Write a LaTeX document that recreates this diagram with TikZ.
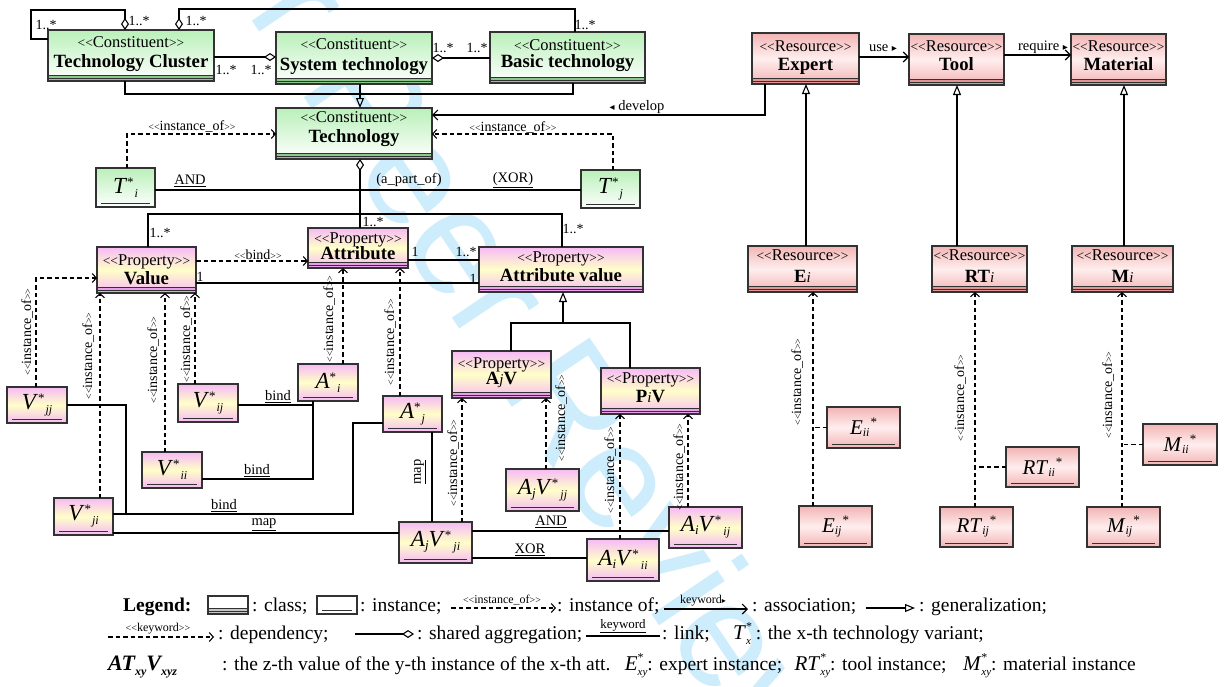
\documentclass[tikz,border=0pt]{standalone}
\usepackage{fontspec}
\setmainfont{Liberation Serif}
\newfontfamily\symfont{DejaVu Sans}
\newfontfamily\wmfont{Liberation Sans}
\usetikzlibrary{arrows.meta,calc}

\definecolor{edge}{RGB}{50,50,50}
\definecolor{gTop}{RGB}{185,240,185}
\definecolor{gBand}{RGB}{140,200,140}
\definecolor{rTop}{RGB}{242,180,180}
\definecolor{rMid}{RGB}{255,238,238}
\definecolor{rBand}{RGB}{225,150,150}
\definecolor{pTop}{RGB}{246,186,246}
\definecolor{pMid}{RGB}{255,255,200}
\definecolor{pBand}{RGB}{232,160,232}
\definecolor{wm}{RGB}{205,237,252}

\newcommand\fsz[1]{\fontsize{#1}{#1}\selectfont}
% stereotype brackets
\newcommand\stereo[1]{{\fsz{13.5}<{}<}#1{\fsz{13.5}>{}>}}
\newcommand\stereoS[1]{{\fsz{10}<{}<}#1{\fsz{10}>{}>}}
% instance names
\newcommand\vinst[2]{\textit{#1}\raisebox{7pt}{\fsz{13}*}\kern1pt\raisebox{-4pt}{\fsz{12}\itshape #2}}
\newcommand\avinst[3]{\textit{#1}\raisebox{-3pt}{\fsz{13}\itshape #2}\textit{V}\raisebox{7pt}{\fsz{13}*}\kern2pt\raisebox{-4pt}{\fsz{12}\itshape #3}}
\newcommand\rinst[2]{\textit{#1}\raisebox{-2pt}{\fsz{12}\itshape #2}\kern1pt\raisebox{8pt}{\fsz{13}*}}
\newcommand\stk[2]{\textit{#1}\rlap{\raisebox{9pt}{\fsz{12}*}}\raisebox{-5pt}{\fsz{11}\itshape #2}}
\newcommand\idx[1]{{\normalfont\itshape\fsz{15}#1}}
% stereotype and title of a class box
\newcommand\ctext[5]{%
  \node[stl, anchor=base] (#1-s) at ($(#1.north)+(0,#2)$) {\stereo{#3}};
  \node[ttl, anchor=base] (#1-n) at ($(#1.north)+(0,#4)$) {#5};}

\tikzset{
  umlbox/.style={draw=edge, line width=1.1pt, rectangle, inner sep=0pt, outer sep=0pt},
  band/.style={path picture={
      \fill[#1] (path picture bounding box.south west) rectangle ([yshift=5.5pt]path picture bounding box.south east);
      \draw[edge, line width=0.8pt] ([yshift=5.5pt]path picture bounding box.south west) -- ([yshift=5.5pt]path picture bounding box.south east);
      \draw[edge, line width=0.8pt] ([yshift=2.7pt]path picture bounding box.south west) -- ([yshift=2.7pt]path picture bounding box.south east);}},
  uline/.style={path picture={
      \draw[edge, line width=0.9pt] ([xshift=5pt,yshift=3.5pt]path picture bounding box.south west) -- ([xshift=-5pt,yshift=3.5pt]path picture bounding box.south east);}},
  ccls/.style={umlbox, top color=gTop, bottom color=white, band=gBand},
  rcls/.style={umlbox, top color=rTop, bottom color=rTop, middle color=rMid, band=rBand},
  pcls/.style={umlbox, top color=pTop, bottom color=pTop, middle color=pMid, band=pBand},
  cins/.style={umlbox, top color=gTop, bottom color=white, uline, font=\fsz{23}},
  rins/.style={umlbox, top color=rTop, bottom color=rTop, middle color=rMid, uline, font=\fsz{21}},
  pins/.style={umlbox, top color=pTop, bottom color=pTop, middle color=pMid, uline, font=\fsz{23}},
  stl/.style={font=\fsz{16.5}, inner sep=0pt},
  ttl/.style={font=\fsz{18.7}\bfseries, inner sep=0pt},
  ln/.style={draw=black, line width=1.1pt},
  dep/.style={ln, dash pattern=on 4.5pt off 3pt, -{Straight Barb[length=4pt,width=9pt]}},
  gen/.style={ln, -{Triangle[open,length=10pt,width=8pt]}},
  agg/.style={ln, -{Diamond[open,length=12pt,width=8pt]}},
  aggs/.style={ln, {Diamond[open,length=12pt,width=8pt]}-},
  assoc/.style={ln, -{Straight Barb[length=5pt,width=10pt]}},
  mul/.style={font=\fsz{14}, inner sep=0pt},
  lk/.style={font=\fsz{14.5}, inner sep=0pt},
  iof/.style={font=\fsz{14}, inner sep=0pt},
  rio/.style={font=\fsz{14}, inner sep=0pt, rotate=90},
  lg/.style={font=\fsz{19.5}, inner sep=0pt},
  lgb/.style={font=\fsz{19.5}\bfseries, inner sep=0pt},
  lgs/.style={font=\fsz{12}, inner sep=0pt},
}

\begin{document}
\begin{tikzpicture}[x=1pt,y=-1pt]
\useasboundingbox (0,0) rectangle (1224,686);
\fill[white] (0,0) rectangle (1224,686);

% review watermark
\node[font=\wmfont\fsz{150}, text=wm, rotate=-56, inner sep=0pt] (wmark) at (505,300) {For Peer Review};

% ---------- constituent classes ----------
\node[ccls, minimum width=166, minimum height=51] (TC) at (131,55.5) {};
\ctext{TC}{17}{Constituent}{37}{Technology Cluster}
\node[ccls, minimum width=156, minimum height=52] (ST) at (354,58) {};
\ctext{ST}{17}{Constituent}{38}{System technology}
\node[ccls, minimum width=155, minimum height=51] (BT) at (567.5,57.5) {};
\ctext{BT}{18}{Constituent}{35}{Basic technology}
\node[ccls, minimum width=156, minimum height=51] (TECH) at (354,133.5) {};
\ctext{TECH}{14}{Constituent}{34}{Technology}

\node[cins, minimum width=59, minimum height=39] (Ti) at (125.5,187.5) {\vinst{T}{i}};
\node[cins, minimum width=59, minimum height=38] (Tj) at (610.5,189) {\vinst{T}{j}};

% ---------- resource classes ----------
\node[rcls, minimum width=107, minimum height=51] (EXP) at (805.5,58.5) {};
\ctext{EXP}{18}{Resource}{37}{Expert}
\node[rcls, minimum width=95, minimum height=51] (TOOL) at (956.5,59.5) {};
\ctext{TOOL}{17}{Resource}{36}{Tool}
\node[rcls, minimum width=95, minimum height=51] (MAT) at (1118.5,59.5) {};
\ctext{MAT}{17}{Resource}{36}{Material}
\node[rcls, minimum width=109, minimum height=46] (Ei) at (802.5,269) {};
\ctext{Ei}{14}{Resource}{36}{E\idx{i}}
\node[rcls, minimum width=95, minimum height=46] (RTi) at (979.5,269) {};
\ctext{RTi}{14}{Resource}{36}{RT\idx{i}}
\node[rcls, minimum width=101, minimum height=46] (Mi) at (1122.5,269) {};
\ctext{Mi}{14}{Resource}{36}{M\idx{i}}

\node[rins, minimum width=73, minimum height=41] (Eii) at (863.5,427.5) {\rinst{E}{ii}};
\node[rins, minimum width=73, minimum height=41] (Eij) at (835.5,526.5) {\rinst{E}{ij}};
\node[rins, minimum width=73, minimum height=40] (RTii) at (1042.5,467) {\rinst{RT}{ii}};
\node[rins, minimum width=73, minimum height=40] (RTij) at (976.5,527) {\rinst{RT}{ij}};
\node[rins, minimum width=74, minimum height=41] (Mii) at (1180,444.5) {\rinst{M}{ii}};
\node[rins, minimum width=73, minimum height=40] (Mij) at (1123.5,527) {\rinst{M}{ij}};

% ---------- property classes ----------
\node[pcls, minimum width=99, minimum height=46] (VAL) at (146.5,270) {};
\ctext{VAL}{18}{Property}{37}{Value}
\node[pcls, minimum width=100, minimum height=40] (ATT) at (358,248) {};
\ctext{ATT}{15}{Property}{31}{Attribute}
\node[pcls, minimum width=164, minimum height=45] (AV) at (561,269.5) {};
\ctext{AV}{15}{Property}{34}{Attribute value}
\node[pcls, minimum width=99, minimum height=47] (AJV) at (501.5,374.5) {};
\ctext{AJV}{17}{Property}{33}{A\idx{j}V}
\node[pcls, minimum width=99, minimum height=46] (PIV) at (650.5,391) {};
\ctext{PIV}{15}{Property}{34}{P\idx{i}V}

% property instances
\node[pins, minimum width=60, minimum height=36] (Vjj) at (37,405) {\vinst{V}{jj}};
\node[pins, minimum width=60, minimum height=38] (Vij) at (208,403) {\vinst{V}{ij}};
\node[pins, minimum width=60, minimum height=37] (Ai) at (328,382.5) {\vinst{A}{i}};
\node[pins, minimum width=59, minimum height=36] (Aj) at (412.5,414) {\vinst{A}{j}};
\node[pins, minimum width=60, minimum height=36] (Vii) at (172,470) {\vinst{V}{ii}};
\node[pins, minimum width=59, minimum height=37] (Vji) at (83.5,516.5) {\vinst{V}{ji}};
\node[pins, minimum width=73, minimum height=41] (AjVji) at (435.5,542.5) {\avinst{A}{j}{ji}};
\node[pins, minimum width=73, minimum height=42] (AjVjj) at (542.5,490) {\avinst{A}{j}{jj}};
\node[pins, minimum width=72, minimum height=42] (AiVii) at (623,560) {\avinst{A}{i}{ii}};
\node[pins, minimum width=73, minimum height=41] (AiVij) at (705.5,527.5) {\avinst{A}{i}{ij}};

% ---------- constituent connectors ----------
\draw[agg] (TC.west |- 0,39) -- (31,39) -- (31,10) -- (125,10) -- (TC.north -| 125,0);
\draw[agg] (BT.north -| 575,0) -- (575,9) -- (179,9) -- (TC.north -| 179,0);
\draw[agg] (TC.east |- 0,57) -- (ST.west |- 0,57);
\draw[agg] (BT.west |- 0,58) -- (ST.east |- 0,58);
\draw[ln] (TC.south -| 125,0) -- (125,94) -- (573,94) -- (BT.south -| 573,0);
\draw[gen] (ST.south -| 360,0) -- (TECH.north -| 360,0);

\node[mul] (m1) at (46,25) {1..*};
\node[mul] (m2) at (139,21) {1..*};
\node[mul] (m3) at (196,21) {1..*};
\node[mul] (m4) at (585,25) {1..*};
\node[mul] (m5) at (226,70) {1..*};
\node[mul] (m6) at (261,70) {1..*};
\node[mul] (m7) at (443,48) {1..*};
\node[mul] (m8) at (477,48) {1..*};

\draw[dep] (Ti.north -| 127,0) -- (127,134) -- (TECH.west |- 0,134);
\draw[dep] (Tj.north -| 613,0) -- (613,134) -- (TECH.east |- 0,134);
\node[iof] (io1) at (192,126) {\stereoS{instance\_of}};
\node[iof] (io2) at (513,127) {\stereoS{instance\_of}};
\draw[ln] (Ti.east |- 0,190) -- (Tj.west |- 0,190);
\node[lk] (tand) at (190,180.5) {\underline{AND}};
\node[lk] (tpart) at (409,180) {(a\_part\_of)};
\node[lk] (txor) at (513,180.5) {\underline{(XOR)}};

\draw[assoc] (EXP.south -| 765,0) -- (765,115) -- (TECH.east |- 0,115);
\node[lk] (ldev) at (637,107) {{\symfont\fsz{10}◂} develop};

% aggregation of technology into properties
\draw[aggs] (TECH.south -| 360,0) -- (ATT.north -| 360,0);
\draw[ln] (VAL.north -| 148,0) -- (148,214) -- (562,214) -- (AV.north -| 562,0);
\node[mul] (m9) at (373,222) {1..*};
\node[mul] (m10) at (160,233) {1..*};
\node[mul] (m11) at (573,229) {1..*};

% ---------- property connectors ----------
\draw[dep] (VAL.east |- 0,261) -- (ATT.west |- 0,261);
\node[iof] (lbind) at (258,255) {\stereoS{bind}};
\draw[ln] (ATT.east |- 0,260) -- (AV.west |- 0,260);
\draw[ln] (VAL.east |- 0,283) -- (AV.west |- 0,283);
\node[mul] (m12) at (415,252) {1};
\node[mul] (m13) at (466,252) {1..*};
\node[mul] (m14) at (200,277) {1};
\node[mul] (m15) at (473,279) {1};

\draw[gen] (AJV.north -| 511,0) -- (511,323) -- (563,323) -- (AV.south -| 563,0);
\draw[ln] (PIV.north -| 630,0) -- (630,323) -- (563,323);

% instance_of dependencies
\draw[dep] (Vjj.north -| 36,0) -- (36,278) -- (VAL.west |- 0,278);
\draw[dep] (Vji.north -| 100,0) -- (VAL.south -| 100,0);
\draw[dep] (Vii.north -| 165,0) -- (VAL.south -| 165,0);
\draw[dep] (Vij.north -| 195,0) -- (VAL.south -| 195,0);
\draw[dep] (Ai.north -| 343,0) -- (ATT.south -| 343,0);
\draw[dep] (Aj.north -| 400,0) -- (ATT.south -| 400,0);
\draw[dep] (AjVji.north -| 462,0) -- (AJV.south -| 462,0);
\draw[dep] (AjVjj.north -| 546,0) -- (AJV.south -| 546,0);
\draw[dep] (AiVii.north -| 620,0) -- (PIV.south -| 620,0);
\draw[dep] (AiVij.north -| 688,0) -- (PIV.south -| 688,0);

\node[rio] (r1) at (27,332) {\stereoS{instance\_of}};
\node[rio] (r2) at (88,356) {\stereoS{instance\_of}};
\node[rio] (r3) at (153,360) {\stereoS{instance\_of}};
\node[rio] (r4) at (186,339) {\stereoS{instance\_of}};
\node[rio] (r5) at (329,319) {\stereoS{instance\_of}};
\node[rio] (r6) at (390,342) {\stereoS{instance\_of}};
\node[rio] (r7) at (453,463) {\stereoS{instance\_of}};
\node[rio] (r8) at (561,418) {\stereoS{instance\_of}};
\node[rio] (r9) at (610,470) {\stereoS{instance\_of}};
\node[rio] (r10) at (679,467) {\stereoS{instance\_of}};

% links between instances
\draw[ln] (Vij.east |- 0,405) -- (313,405);
\draw[ln] (Ai.south -| 313,0) -- (313,479) -- (Vii.east |- 0,479);
\draw[ln] (Vjj.east |- 0,405) -- (126,405) -- (126,514) -- (353,514) -- (353,423) -- (Aj.west |- 0,423);
\draw[ln] (Vji.east |- 0,514) -- (126,514);
\draw[ln] (Vji.east |- 0,533) -- (AjVji.west |- 0,533);
\draw[ln] (Aj.south -| 432,0) -- (AjVji.north -| 432,0);
\draw[ln] (AjVji.east |- 0,531) -- (AiVij.west |- 0,531);
\draw[ln] (AjVji.east |- 0,558) -- (AiVii.west |- 0,558);

\node[lk] (b1) at (278,397) {\underline{bind}};
\node[lk] (b2) at (257,471) {\underline{bind}};
\node[lk] (b3) at (224,506) {\underline{bind}};
\node[lk] (mp1) at (264,525) {\underline{map}};
\node[lk, rotate=90] (mp2) at (420,472) {\underline{map}};
\node[lk] (iand) at (551,522) {\underline{AND}};
\node[lk] (ixor) at (530,550) {\underline{XOR}};

% ---------- resource connectors ----------
\draw[assoc] (EXP.east |- 0,57) -- (TOOL.west |- 0,57);
\node[lk] (luse) at (883,48) {use {\symfont\fsz{10}▸}};
\draw[assoc] (TOOL.east |- 0,55) -- (MAT.west |- 0,55);
\node[lk] (lreq) at (1043,47) {require {\symfont\fsz{10}▸}};

\draw[gen] (Ei.north -| 806,0) -- (EXP.south -| 806,0);
\draw[gen] (RTi.north -| 957,0) -- (TOOL.south -| 957,0);
\draw[gen] (Mi.north -| 1124,0) -- (MAT.south -| 1124,0);

\draw[dep] (Eij.north -| 813,0) -- (Ei.south -| 813,0);
\draw[ln, dash pattern=on 4.5pt off 3pt] (Eii.west) -- (Eii.west -| 813,0);
\draw[dep] (RTij.north -| 975,0) -- (RTi.south -| 975,0);
\draw[ln, dash pattern=on 4.5pt off 3pt] (RTii.west) -- (RTii.west -| 975,0);
\draw[dep] (Mij.north -| 1122,0) -- (Mi.south -| 1122,0);
\draw[ln, dash pattern=on 4.5pt off 3pt] (Mii.west) -- (Mii.west -| 1122,0);

\node[rio] (r11) at (797,382) {\stereoS{instance\_of}};
\node[rio] (r12) at (960,398) {\stereoS{instance\_of}};
\node[rio] (r13) at (1108,395) {\stereoS{instance\_of}};

% ---------- legend ----------
% row 1
\node[lgb, anchor=base west] (lgL) at (123,611) {Legend:};
\node[umlbox, fill=white, band=gray!45, minimum width=40, minimum height=18] (lgC) at (228,605) {};
\node[lg, anchor=base west] (lgCt) at (252,611) {: class;};
\node[umlbox, fill=white, uline, minimum width=40, minimum height=18] (lgI) at (337,605) {};
\node[lg, anchor=base west] (lgIt) at (360,611) {: instance;};
\coordinate (lgD1) at (451,608);
\coordinate (lgD2) at (556,608);
\draw[dep] (lgD1) -- (lgD2);
\node[lgs] (lgDl) at (502,600) {\stereoS{instance\_of}};
\node[lg, anchor=base west] (lgDt) at (557,611) {: instance of;};
\coordinate (lgA1) at (664,609);
\coordinate (lgA2) at (748,609);
\draw[assoc] (lgA1) -- (lgA2);
\node[lgs] (lgAl) at (703,601) {keyword{\symfont\fsz{8}▸}};
\node[lg, anchor=base west] (lgAt) at (752,611) {: association;};
\coordinate (lgG1) at (866,608);
\coordinate (lgG2) at (915,608);
\draw[gen] (lgG1) -- (lgG2);
\node[lg, anchor=base west] (lgGt) at (919,611) {: generalization;};

% row 2
\coordinate (lgK1) at (108,637);
\coordinate (lgK2) at (214,637);
\draw[dep] (lgK1) -- (lgK2);
\node[lgs] (lgKl) at (158,629) {\stereoS{keyword}};
\node[lg, anchor=base west] (lgKt) at (218,639) {: dependency;};
\coordinate (lgS1) at (355,634);
\coordinate (lgS2) at (414,634);
\draw[agg] (lgS1) -- (lgS2);
\node[lg, anchor=base west] (lgSt) at (417,639) {: shared aggregation;};
\coordinate (lgN1) at (586,636);
\coordinate (lgN2) at (660,636);
\draw[ln] (lgN1) -- (lgN2);
\node[font=\fsz{13}, inner sep=0pt] (lgNl) at (623,626) {\underline{keyword}};
\node[lg, anchor=base west] (lgNt) at (662,639) {: link;};
\node[lg, anchor=base west] (lgT) at (733,639) {{\fsz{21}\stk{T}{x}}\ : the x-th technology variant;};

% row 3
\node[lg, anchor=base west] (lgAT) at (108,670) {{\bfseries\itshape\fsz{22}AT}\raisebox{-5pt}{\fsz{12}\bfseries\itshape xy}{\bfseries\itshape\fsz{22}V}\raisebox{-5pt}{\fsz{12}\bfseries\itshape xyz}};
\node[lg, anchor=base west] (lgATt) at (222,670) {: the z-th value of the y-th instance of the x-th att.};
\node[lg, anchor=base west] (lgE) at ($(lgATt.base east)+(14,0)$) {{\fsz{21}\stk{E}{xy}}: expert instance;};
\node[lg, anchor=base west] (lgRT) at ($(lgE.base east)+(12,0)$) {{\fsz{21}\stk{RT}{xy}}: tool instance;};
\node[lg, anchor=base west] (lgM) at ($(lgRT.base east)+(16,0)$) {{\fsz{21}\stk{M}{xy}}: material instance};
\end{tikzpicture}
\end{document}
